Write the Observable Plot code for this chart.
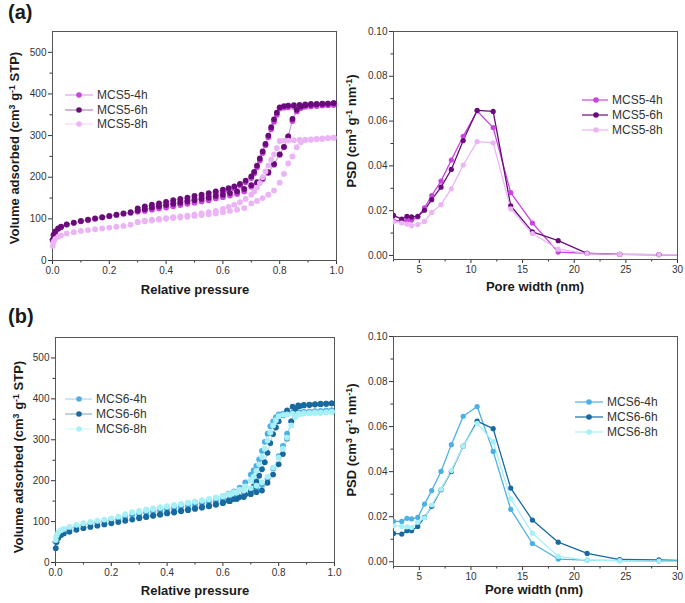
<!DOCTYPE html>
<html>
<head>
<meta charset="utf-8">
<script src="https://cdn.jsdelivr.net/npm/d3@7"></script>
<script src="https://cdn.jsdelivr.net/npm/@observablehq/plot@0.6"></script>
<style>
  html, body { margin: 0; padding: 0; background: #fff; }
  #wrap { position: relative; width: 685px; height: 603px; font-family: "Liberation Sans", Arial, sans-serif; color: #222; overflow: hidden; }
  .abs { position: absolute; }
  .tag { font-weight: bold; font-size: 20px; line-height: 22px; color: #1a1a1a; }
  .xt { font-weight: bold; font-size: 13px; text-align: center; width: 240px; line-height: 16px; color: #1a1a1a; }
  .yt { font-weight: bold; font-size: 13px; text-align: center; width: 240px; line-height: 16px; color: #1a1a1a; transform: rotate(-90deg); transform-origin: 50% 50%; white-space: nowrap; }
  sup { font-size: 0.68em; vertical-align: 0.5em; line-height: 0; }
  .leg { font-size: 12px; color: #333; white-space: nowrap; line-height: 14px; }
</style>
</head>
<body>
<div id="wrap"></div>
<script>
// ---------------- DATA ----------------
// Left panels: N2 isotherms
const pAds = [0.001, 0.004, 0.01, 0.02, 0.03, 0.05, 0.075, 0.10, 0.125, 0.15, 0.175, 0.20, 0.225, 0.25, 0.275, 0.30, 0.325, 0.35, 0.375, 0.40, 0.425, 0.45, 0.475, 0.50, 0.525, 0.55, 0.575, 0.60, 0.625, 0.65, 0.675, 0.70, 0.72, 0.74, 0.76, 0.78, 0.80, 0.815, 0.83, 0.845, 0.86, 0.875, 0.89, 0.91, 0.93, 0.95, 0.97, 0.99];
const pDes = [0.99, 0.97, 0.95, 0.93, 0.91, 0.89, 0.87, 0.85, 0.83, 0.815, 0.80, 0.79, 0.78, 0.77, 0.76, 0.75, 0.74, 0.73, 0.72, 0.71, 0.70, 0.68, 0.66, 0.64, 0.62, 0.60, 0.575, 0.55, 0.525, 0.50, 0.475, 0.45, 0.425, 0.40, 0.375, 0.35, 0.325, 0.30];

const seriesA = ["MCS5-4h", "MCS5-6h", "MCS5-8h"];
const colorsA = ["#c944e0", "#690c7a", "#ebb4f5"];
const mcs5_4h_ads = [48, 60, 68, 76, 80, 86, 90, 94, 97, 100, 103, 106, 109, 112, 114, 117, 119, 122, 125, 127, 130, 133, 136, 139, 142, 145, 149, 152, 156, 160, 166, 177, 184, 195, 210, 230, 254, 272, 298, 335, 358, 366, 369, 370, 371, 372, 373, 374];
const mcs5_4h_des = [374, 373, 373, 372, 372, 371, 370, 369, 368, 367, 365, 350, 333, 315, 296, 277, 258, 240, 224, 209, 198, 188, 180, 173, 168, 164, 160, 156, 152, 148, 145, 142, 138, 135, 131, 127, 124, 119];
const mcs5_6h_ads = [50, 62, 70, 77, 81, 87, 91, 95, 98, 101, 104, 107, 110, 113, 116, 120, 123, 127, 130, 133, 136, 139, 142, 145, 148, 151, 155, 158, 162, 166, 172, 181, 188, 198, 212, 232, 255, 273, 298, 340, 362, 370, 373, 374, 375, 376, 377, 378];
const mcs5_6h_des = [378, 377, 377, 376, 376, 375, 374, 373, 372, 371, 368, 355, 339, 320, 300, 280, 262, 245, 228, 213, 202, 192, 184, 178, 174, 170, 166, 162, 158, 155, 151, 148, 145, 141, 137, 134, 130, 125];
const mcs5_8h_ads = [35, 45, 52, 57, 60, 65, 68, 71, 73, 75, 77, 79, 81, 83, 86, 92, 94, 96, 98, 100, 102, 103, 105, 107, 109, 111, 113, 116, 119, 122, 126, 137, 143, 150, 158, 168, 187, 208, 233, 250, 272, 284, 289, 290, 291, 292, 294, 295];
const mcs5_8h_des = [295, 294, 293, 292, 291, 290, 290, 289, 288, 288, 287, 270, 255, 242, 228, 214, 200, 186, 175, 166, 158, 148, 140, 134, 129, 124, 119, 116, 113, 110, 108, 106, 104, 102, 100, 98, 96, 93];

const seriesB = ["MCS6-4h", "MCS6-6h", "MCS6-8h"];
const colorsB = ["#4cb0e6", "#17699f", "#a8f0f8"];
const mcs6_4h_ads = [50, 62, 70, 75, 79, 84, 88, 92, 95, 98, 101, 104, 107, 111, 116, 119, 122, 125, 128, 131, 133, 136, 139, 142, 145, 148, 152, 156, 160, 165, 170, 176, 182, 190, 205, 230, 260, 285, 315, 345, 362, 366, 368, 369, 370, 370, 371, 372];
const mcs6_4h_des = [372, 371, 370, 369, 368, 368, 367, 366, 365, 364, 362, 355, 345, 333, 315, 295, 273, 252, 236, 225, 215, 196, 183, 174, 168, 163, 158, 153, 149, 145, 142, 139, 136, 133, 130, 127, 124, 121];
const mcs6_6h_ads = [35, 50, 60, 67, 71, 75, 80, 84, 87, 90, 93, 96, 99, 102, 105, 108, 111, 114, 117, 120, 122, 125, 128, 131, 134, 137, 141, 145, 150, 155, 160, 167, 172, 176, 195, 215, 240, 265, 303, 345, 376, 382, 384, 385, 386, 387, 388, 389];
const mcs6_6h_des = [389, 388, 388, 387, 386, 385, 384, 381, 372, 360, 345, 330, 314, 292, 268, 245, 228, 212, 198, 186, 176, 166, 160, 155, 151, 147, 143, 139, 136, 133, 130, 127, 124, 121, 118, 115, 112, 110];
const mcs6_8h_ads = [55, 66, 74, 79, 82, 87, 92, 96, 99, 102, 105, 108, 112, 118, 123, 126, 129, 132, 135, 137, 140, 143, 146, 149, 152, 155, 158, 162, 166, 171, 176, 182, 188, 196, 210, 232, 256, 278, 305, 335, 355, 362, 364, 365, 366, 366, 367, 368];
const mcs6_8h_des = [368, 367, 366, 366, 365, 365, 364, 363, 362, 361, 358, 348, 335, 318, 298, 278, 258, 240, 224, 210, 200, 186, 178, 172, 167, 163, 159, 155, 152, 149, 146, 143, 140, 137, 134, 131, 128, 124];

// Right panels: pore size distributions
const poreWidth = [2.5, 3.3, 3.8, 4.25, 4.85, 5.5, 6.2, 7.1, 8.1, 9.25, 10.6, 12.15, 13.85, 15.95, 18.45, 21.25, 24.4, 28.2, 32.5];
const psd5_4h = [0.0155, 0.0155, 0.0156, 0.0158, 0.0172, 0.0213, 0.0267, 0.0332, 0.0426, 0.0532, 0.0645, 0.0571, 0.0281, 0.0145, 0.0015, 0.0010, 0.0005, 0.0004, 0.0003];
const psd5_6h = [0.0179, 0.0162, 0.0175, 0.0172, 0.0175, 0.0202, 0.0249, 0.0305, 0.0384, 0.0513, 0.0648, 0.0643, 0.0222, 0.0105, 0.0066, 0.0009, 0.0005, 0.0004, 0.0003];
const psd5_8h = [0.0150, 0.0145, 0.0140, 0.0133, 0.0138, 0.0152, 0.0192, 0.0227, 0.0298, 0.0404, 0.0508, 0.0503, 0.0208, 0.0098, 0.0028, 0.0008, 0.0005, 0.0004, 0.0003];
const psd6_4h = [0.0179, 0.0179, 0.0193, 0.0190, 0.0197, 0.0256, 0.0316, 0.0401, 0.0520, 0.0646, 0.0689, 0.0490, 0.0233, 0.0081, 0.0012, 0.0007, 0.0005, 0.0003, 0.0002];
const psd6_6h = [0.0126, 0.0123, 0.0138, 0.0138, 0.0157, 0.0197, 0.0246, 0.0320, 0.0401, 0.0513, 0.0624, 0.0591, 0.0327, 0.0185, 0.0087, 0.0037, 0.0010, 0.0008, 0.0004];
const psd6_8h = [0.0160, 0.0157, 0.0155, 0.0152, 0.0175, 0.0195, 0.0252, 0.0322, 0.0405, 0.0513, 0.0615, 0.0533, 0.0279, 0.0127, 0.0024, 0.0007, 0.0005, 0.0003, 0.0002];

// Ticks
const isoXTicks = [0, 0.2, 0.4, 0.6, 0.8, 1.0];
const isoXMinor = [0.1, 0.3, 0.5, 0.7, 0.9];
const isoYTicks = [0, 100, 200, 300, 400, 500];
const isoYMinor = [50, 150, 250, 350, 450];
const psdXTicks = [5, 10, 15, 20, 25, 30];
const psdXMinor = [2.5, 7.5, 12.5, 17.5, 22.5, 27.5];
const psdYTicks = [0, 0.02, 0.04, 0.06, 0.08, 0.10];
const psdYMinor = [0.01, 0.03, 0.05, 0.07, 0.09];

// ---------------- BUILD ----------------
function isoRows(series, adsList, desList) {
  const rows = [];
  series.forEach((s, i) => {
    pAds.forEach((p, j) => rows.push({series: s, branch: "ads", p, v: adsList[i][j]}));
    pDes.forEach((p, j) => rows.push({series: s, branch: "des", p, v: desList[i][j]}));
  });
  return rows;
}
function psdRows(series, lists) {
  const rows = [];
  series.forEach((s, i) => poreWidth.forEach((w, j) => rows.push({series: s, w, v: lists[i][j]})));
  return rows;
}

const wrap = document.getElementById("wrap");

function axes(xT, xM, yT, yM, xFmt, yFmt) {
  return [
    Plot.axisX(xT, {tickSize: 4, tickPadding: 2, tickFormat: xFmt, label: null, fontSize: 10}),
    Plot.axisX(xM, {tickSize: 2.5, tickFormat: () => "", label: null}),
    Plot.axisY(yT, {tickSize: 4, tickPadding: 2, tickFormat: yFmt, label: null, fontSize: 10}),
    Plot.axisY(yM, {tickSize: 2.5, tickFormat: () => "", label: null}),
    Plot.frame({stroke: "#555", strokeWidth: 1})
  ];
}

function place(svg, left, top) {
  svg.style.position = "absolute";
  svg.style.left = left + "px";
  svg.style.top = top + "px";
  wrap.appendChild(svg);
}

function isoPlot(series, colors, rows, opts) {
  return Plot.plot({
    width: opts.width, height: opts.height,
    marginLeft: opts.ml, marginRight: opts.mr, marginTop: opts.mt, marginBottom: opts.mb,
    x: {domain: [0, 1]},
    y: {domain: [0, 550]},
    color: {domain: series, range: colors},
    style: {fontFamily: "Liberation Sans, Arial, sans-serif", color: "#333", background: "transparent", overflow: "visible"},
    marks: [
      ...axes(isoXTicks, isoXMinor, isoYTicks, isoYMinor, d3.format(".1f"), d3.format("d")),
      Plot.line(rows, {x: "p", y: "v", z: d => d.series + d.branch, stroke: "series", strokeWidth: 0.6, strokeOpacity: 0.5}),
      Plot.dot(rows, {x: "p", y: "v", fill: "series", r: 2.9})
    ]
  });
}

function psdPlot(series, colors, rows, opts) {
  return Plot.plot({
    width: opts.width, height: opts.height,
    marginLeft: opts.ml, marginRight: opts.mr, marginTop: opts.mt, marginBottom: opts.mb,
    x: {domain: [2.5, 30]},
    y: {domain: [opts.ymin, 0.1]},
    color: {domain: series, range: colors},
    style: {fontFamily: "Liberation Sans, Arial, sans-serif", color: "#333", background: "transparent", overflow: "visible"},
    marks: [
      ...axes(psdXTicks, psdXMinor, psdYTicks, psdYMinor, d3.format("d"), d3.format(".2f")),
      Plot.line(rows, {x: "w", y: "v", z: "series", stroke: "series", strokeWidth: 1.3, clip: true}),
      Plot.dot(rows, {x: "w", y: "v", fill: "series", r: 2.6, clip: true})
    ]
  });
}

const rowsIsoA = isoRows(seriesA, [mcs5_4h_ads, mcs5_6h_ads, mcs5_8h_ads], [mcs5_4h_des, mcs5_6h_des, mcs5_8h_des]);
const rowsIsoB = isoRows(seriesB, [mcs6_4h_ads, mcs6_6h_ads, mcs6_8h_ads], [mcs6_4h_des, mcs6_6h_des, mcs6_8h_des]);
const rowsPsdA = psdRows(seriesA, [psd5_4h, psd5_6h, psd5_8h]);
const rowsPsdB = psdRows(seriesB, [psd6_4h, psd6_6h, psd6_8h]);

place(isoPlot(seriesA, colorsA, rowsIsoA, {width: 345, height: 300, ml: 52, mr: 9, mt: 31, mb: 40}), 0, 0);
place(psdPlot(seriesA, colorsA, rowsPsdA, {width: 340, height: 300, ml: 48, mr: 8, mt: 31, mb: 41, ymin: -0.0018}), 345, 0);
place(isoPlot(seriesB, colorsB, rowsIsoB, {width: 345, height: 303, ml: 55, mr: 11, mt: 37, mb: 41}), 0, 300);
place(psdPlot(seriesB, colorsB, rowsPsdB, {width: 340, height: 303, ml: 48, mr: 8, mt: 36, mb: 37, ymin: -0.0021}), 345, 300);

// ---------------- TEXT ----------------
function addDiv(cls, html, left, top, extra) {
  const d = document.createElement("div");
  d.className = "abs " + cls;
  d.innerHTML = html;
  d.style.left = left + "px";
  d.style.top = top + "px";
  if (extra) Object.assign(d.style, extra);
  wrap.appendChild(d);
  return d;
}
addDiv("tag", "(a)", 8, 1);
addDiv("tag", "(b)", 8, 305);

const volLabel = "Volume adsorbed (cm<sup>3</sup> g<sup>-1</sup> STP)";
const psdLabel = "PSD (cm<sup>3</sup> g<sup>-1</sup> nm<sup>-1</sup>)";
addDiv("xt", "Relative pressure", 195 - 120, 282);
addDiv("xt", "Pore width (nm)", 535 - 120, 279);
addDiv("xt", "Relative pressure", 195 - 120, 583);
addDiv("xt", "Pore width (nm)", 534 - 120, 582);
addDiv("yt", volLabel, 15 - 120, 148 - 8);
addDiv("yt", psdLabel, 352 - 120, 131 - 8);
addDiv("yt", volLabel, 19 - 120, 457 - 8);
addDiv("yt", psdLabel, 352 - 120, 440 - 8);

function legend(series, colors, x0, x1, xd, xt, ys, lineW, lineOp) {
  series.forEach((s, i) => {
    const w = x1 - x0;
    const html = `<svg width="${w}" height="10" style="position:absolute;left:0;top:2px;overflow:visible">
      <line x1="0" y1="5" x2="${w}" y2="5" stroke="${colors[i]}" stroke-width="${lineW}" stroke-opacity="${lineOp}"/>
      <circle cx="${xd - x0}" cy="5" r="2.8" fill="${colors[i]}"/></svg>
      <span style="position:absolute;left:${xt - x0}px;top:0">${s}</span>`;
    addDiv("leg", html, x0, ys[i] - 7, {width: "90px", height: "14px"});
  });
}
legend(seriesA, colorsA, 65, 93, 79, 97, [95, 109.5, 124], 1, 0.6);
legend(seriesA, colorsA, 582, 608, 596, 612, [100, 115, 130], 1.4, 0.85);
legend(seriesB, colorsB, 65, 92, 79, 96, [399, 414, 428.5], 1, 0.6);
legend(seriesB, colorsB, 575, 603, 589, 607, [402, 417, 432], 1.4, 0.85);
</script>
</body>
</html>
